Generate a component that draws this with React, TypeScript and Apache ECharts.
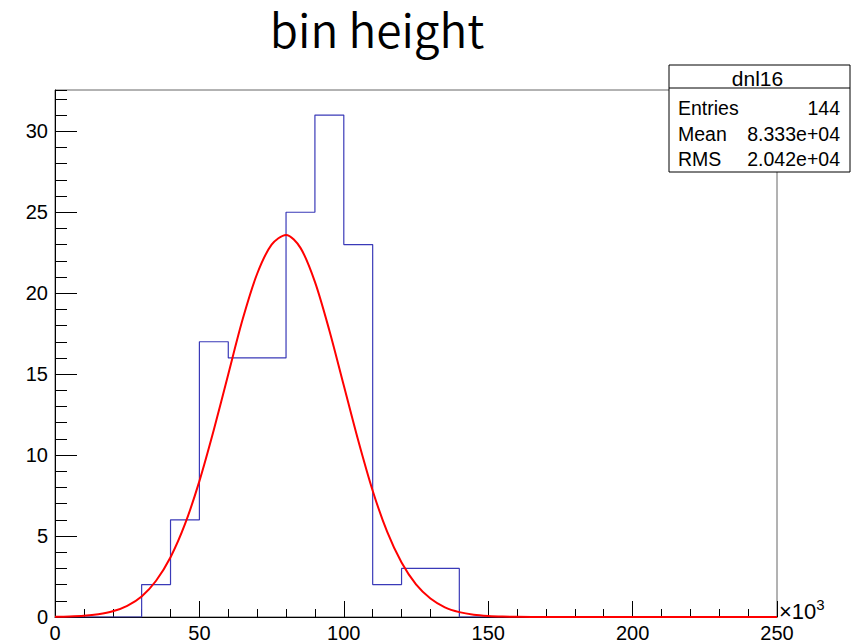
import React, { useEffect, useRef } from "react";
import * as echarts from "echarts";

// Histogram bins (x in units of 10^3)
const binEdges = [0, 10, 20, 30, 40, 50, 60, 70, 80, 90, 100, 110, 120, 130, 140, 150, 160, 170, 180, 190, 200, 210, 220, 230, 240, 250];
const binCounts = [0, 0, 0, 2, 6, 17, 16, 16, 25, 31, 23, 2, 3, 3, 0, 0, 0, 0, 0, 0, 0, 0, 0, 0, 0];

// Gaussian fit curve
const fitX = [0, 5, 10, 15, 20, 25, 30, 35, 40, 45, 50, 55, 60, 65, 70, 75, 80, 85, 90, 95, 100, 105, 110, 115, 120, 125, 130, 135, 140, 145, 150, 155, 160, 170, 180, 190, 200, 210, 220, 230, 240, 250];
const fitY = [0.013, 0.032, 0.075, 0.17, 0.35, 0.69, 1.27, 2.24, 3.69, 5.73, 8.39, 11.56, 15.0, 18.4, 21.2, 23.0, 23.6, 22.8, 20.7, 17.7, 14.3, 10.9, 7.8, 5.27, 3.36, 2.01, 1.14, 0.6, 0.3, 0.14, 0.064, 0.026, 0.01, 0, 0, 0, 0, 0, 0, 0, 0, 0];

const xMin = 0;
const xMax = 250;
const yMin = 0;
const yMax = 32.55;

const titleText = "bin height";
const statsName = "dnl16";
const statsLabels = ["Entries", "Mean", "RMS"];
const statsValues = ["144", "8.333e+04", "2.042e+04"];

const labelFont = "'Liberation Sans', Arial, Helvetica, sans-serif";

export default function App() {
  const ref = useRef<HTMLDivElement>(null);

  useEffect(() => {
    if (!ref.current) return;
    const chart = echarts.init(ref.current, null, { renderer: "svg" });

    const histData: number[][] = [];
    for (let i = 0; i < binCounts.length; i++) {
      histData.push([binEdges[i], binCounts[i]]);
      histData.push([binEdges[i + 1], binCounts[i]]);
    }
    const fitData = fitX.map((x, i) => [x, fitY[i]]);

    const boxX = 669;
    const boxY = 65;
    const boxW = 181;
    const boxH = 107;
    const headH = 23;
    const rowCenters = [108, 134, 159];

    const statsGraphics: any[] = [
      {
        type: "rect",
        shape: { x: boxX, y: boxY, width: boxW, height: boxH },
        style: { fill: "#fff", stroke: "#000", lineWidth: 1 },
        z: 100,
      },
      {
        type: "line",
        shape: { x1: boxX, y1: boxY + headH, x2: boxX + boxW, y2: boxY + headH },
        style: { stroke: "#000", lineWidth: 1 },
        z: 101,
      },
      {
        type: "text",
        x: boxX + boxW / 2 - 2,
        y: boxY + headH / 2 + 2,
        style: { text: statsName, fontSize: 21, fontFamily: labelFont, fill: "#000", align: "center", verticalAlign: "middle" },
        z: 101,
      },
    ];
    statsLabels.forEach((lab, i) => {
      const cy = rowCenters[i];
      statsGraphics.push({
        type: "text",
        x: boxX + 9,
        y: cy,
        style: { text: lab, fontSize: 19.5, fontFamily: labelFont, fill: "#000", align: "left", verticalAlign: "middle" },
        z: 101,
      });
      statsGraphics.push({
        type: "text",
        x: boxX + boxW - 10,
        y: cy,
        style: { text: statsValues[i], fontSize: 19.5, fontFamily: labelFont, fill: "#000", align: "right", verticalAlign: "middle" },
        z: 101,
      });
    });

    const option: any = {
      animation: false,
      backgroundColor: "#fff",
      grid: {
        left: 55,
        right: 79,
        top: 90,
        bottom: 26,
        show: true,
        borderColor: "#666",
        borderWidth: 1,
        backgroundColor: "transparent",
      },
      xAxis: [
        {
          type: "value",
          min: xMin,
          max: xMax,
          interval: 50,
          position: "bottom",
          axisLine: { show: true, onZero: false, lineStyle: { color: "#000", width: 1 } },
          axisTick: { show: true, inside: true, length: 16, lineStyle: { color: "#000", width: 1 } },
          minorTick: { show: true, splitNumber: 5, length: 8, lineStyle: { color: "#000", width: 1 } },
          axisLabel: { fontSize: 20, color: "#000", fontFamily: labelFont, margin: 6 },
          splitLine: { show: false },
          minorSplitLine: { show: false },
        },
      ],
      yAxis: [
        {
          type: "value",
          min: yMin,
          max: yMax,
          interval: 5,
          position: "left",
          axisLine: { show: true, onZero: false, lineStyle: { color: "#000", width: 1 } },
          axisTick: { show: true, inside: true, length: 22, lineStyle: { color: "#000", width: 1 } },
          axisLabel: {
            fontSize: 20,
            color: "#000",
            fontFamily: labelFont,
            margin: 7,
            showMaxLabel: false,
            formatter: (v: number) => (Math.abs(v % 5) < 1e-9 ? String(v) : ""),
          },
          splitLine: { show: false },
        },
        {
          type: "value",
          min: yMin,
          max: yMax,
          interval: 1,
          position: "left",
          offset: 0,
          axisLine: { show: false, onZero: false },
          axisTick: { show: true, inside: true, length: 12, lineStyle: { color: "#000", width: 1 } },
          axisLabel: { show: false },
          splitLine: { show: false },
        },
      ],
      series: [
        {
          name: "hist",
          type: "line",
          data: histData,
          xAxisIndex: 0,
          yAxisIndex: 0,
          showSymbol: false,
          symbol: "none",
          lineStyle: { color: "#3a3ab8", width: 1.2 },
          z: 3,
        },
        {
          name: "fit",
          type: "line",
          data: fitData,
          xAxisIndex: 0,
          yAxisIndex: 0,
          smooth: 0.3,
          showSymbol: false,
          symbol: "none",
          lineStyle: { color: "#ff0000", width: 2 },
          z: 4,
        },
      ],
      graphic: [
        {
          type: "text",
          x: 377,
          y: 28,
          style: {
            text: titleText,
            fontSize: 46,
            fontWeight: 350,
            fontFamily: "'Noto Sans CJK JP', 'Noto Sans', sans-serif",
            fill: "#000",
            align: "center",
            verticalAlign: "middle",
          },
        },
        {
          type: "text",
          x: 779,
          y: 611,
          style: {
            text: "×10{sup|3}",
            fontSize: 22,
            fontFamily: labelFont,
            fill: "#000",
            align: "left",
            verticalAlign: "middle",
            rich: {
              sup: { fontSize: 15, fontFamily: labelFont, fill: "#000", verticalAlign: "top", padding: [0, 0, 14, 0] },
            },
          },
        },
        ...statsGraphics,
      ],
    };

    chart.setOption(option);
    return () => {
      chart.dispose();
    };
  }, []);

  return (
    <div
      ref={ref}
      style={{ position: "fixed", left: 0, top: 0, width: 856, height: 643, background: "#fff" }}
    />
  );
}
